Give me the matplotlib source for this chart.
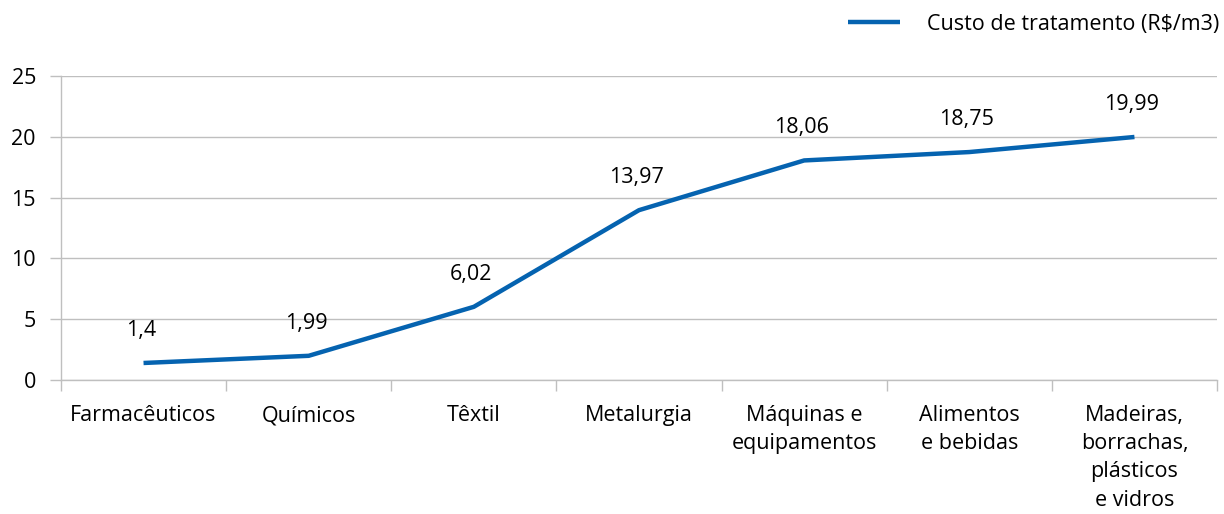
import numpy as np
import matplotlib.pyplot as plt

plt.rcParams['font.family'] = ['Open Sans', 'DejaVu Sans']

categories = ['Farmacêuticos', 'Químicos', 'Têxtil', 'Metalurgia',
              'Máquinas e\nequipamentos', 'Alimentos\ne bebidas',
              'Madeiras,\nborrachas,\nplásticos\ne vidros']
custo = [1.4, 1.99, 6.02, 13.97, 18.06, 18.75, 19.99]
value_labels = ['1,4', '1,99', '6,02', '13,97', '18,06', '18,75', '19,99']

blue = '#0563b0'
grey = '#bfbfbf'
fs = 15.5

fig = plt.figure(figsize=(12.24, 5.14), dpi=100)
ax = fig.add_axes([0.0498, 0.2607, 0.9445, 0.5913])

x = np.arange(len(categories))
line, = ax.plot(x, custo, color=blue, lw=3.2, solid_capstyle='butt',
                label='Custo de tratamento (R$/m3)')

for xi, yi, lab in zip(x, custo, value_labels):
    ax.annotate(lab, (xi, yi), xytext=(-2, 16), textcoords='offset points',
                ha='center', va='bottom', fontsize=fs)

ax.set_xlim(-0.5, len(categories) - 0.5)
ax.set_ylim(0, 25)
ax.set_yticks(range(0, 26, 5))
ax.yaxis.grid(True, color=grey, lw=1)
ax.set_axisbelow(True)

ax.set_xticks(x)
ax.set_xticklabels(categories, fontsize=fs, linespacing=1.45)
ax.set_xticks(np.arange(-0.5, len(categories)), minor=True)
ax.tick_params(axis='x', which='major', length=0, pad=18)
ax.tick_params(axis='x', which='minor', length=8, color=grey, width=1)
ax.tick_params(axis='y', length=8, color=grey, width=1, labelsize=fs, pad=10)

for s in ['top', 'right']:
    ax.spines[s].set_visible(False)
for s in ['left', 'bottom']:
    ax.spines[s].set_color(grey)
    ax.spines[s].set_linewidth(1)

fig.legend(handles=[line], loc='upper right',
           bbox_to_anchor=(1219 / 1224, 1 - 14 / 514),
           frameon=False, fontsize=fs, handlelength=2.4, handletextpad=1.25,
           borderpad=0, borderaxespad=0)

fig.savefig('out.png', dpi=100)
